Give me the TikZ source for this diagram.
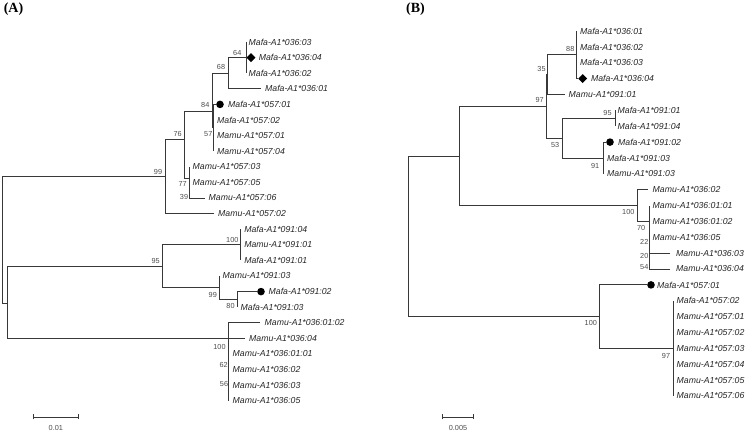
\documentclass[tikz,border=0pt]{standalone}
\usepackage{fontspec}
\setmainfont{Liberation Serif}
\setsansfont{Liberation Sans}
\usetikzlibrary{positioning,shapes.geometric,arrows.meta}
\definecolor{BranchGray}{rgb}{0.22,0.22,0.22}
\definecolor{BootGray}{rgb}{0.30,0.30,0.30}
\tikzset{
  branch/.style={draw=BranchGray, line width=0.8pt},
  leaf/.style={inner sep=0pt, text=black!85, font=\sffamily\itshape\fontsize{8.7}{10}\selectfont},
  boot/.style={inner sep=0pt, text=BootGray, font=\sffamily\fontsize{7.3}{8}\selectfont},
  dot/.style={circle, fill=black, inner sep=0pt, minimum size=7.6pt},
  gem/.style={diamond, fill=black, inner sep=0pt, minimum size=9pt},
  panel/.style={inner sep=0pt, font=\bfseries\fontsize{14}{16}\selectfont},
}

\begin{document}
\begin{tikzpicture}[x=1pt, y=-1pt]
  \useasboundingbox (0,0) rectangle (747,435);

  % (A)
  \node[panel] (labA) at (13.5,9.5) {(A)};

  \coordinate (rA) at (2,240);
  \coordinate (nA99) at (165,176);
  \coordinate (nA76) at (184,139);
  \coordinate (nA84) at (212.5,111);
  \coordinate (nA68) at (228,73.2);
  \coordinate (nA64) at (246,57.6);
  \coordinate (nA57) at (213.5,127.8);
  \coordinate (nA77) at (189,178);
  \coordinate (nAlow) at (7,303);
  \coordinate (nA95) at (162,266.5);
  \coordinate (nA100a) at (240.7,244.8);
  \coordinate (nA99b) at (219,287.7);
  \coordinate (nA80) at (237,299.4);
  \coordinate (nA100c) at (228,338.4);

  \draw[branch] (rA) |- (nA99);
  \draw[branch] (rA) |- (nAlow);
  \draw[branch] (nA99) |- (nA76);
  \draw[branch] (nA76) |- (nA84);
  \draw[branch] (nA76) |- (nA77);
  \draw[branch] (nA84) |- (nA68);
  \draw[branch] (nA84) |- (nA57);
  \draw[branch] (nA68) |- (nA64);
  \draw[branch] (nAlow) |- (nA95);
  \draw[branch] (nAlow) |- (nA100c);
  \draw[branch] (nA95) |- (nA100a);
  \draw[branch] (nA95) |- (nA99b);
  \draw[branch] (nA99b) |- (nA80);

  \coordinate (tA0363) at (246,42);
  \node[gem] (mA0364) at (251,57.6) {};
  \coordinate (tA0362) at (246,73.2);
  \coordinate (tA0361) at (261,88.8);
  \node[dot] (mA0571) at (220,104.4) {};
  \coordinate (tA0572) at (213.5,120);
  \coordinate (tA0571u) at (213.5,135.6);
  \coordinate (tA0574u) at (213.5,151.2);
  \coordinate (tA0573u) at (189,166.8);
  \coordinate (tA0575u) at (189,182.4);
  \coordinate (tA0576u) at (205,198);
  \coordinate (tA0572u) at (214,213.6);
  \coordinate (tA0914) at (240.7,229.2);
  \coordinate (tA0911u) at (240.7,244.8);
  \coordinate (tA0911) at (240.7,260.4);
  \coordinate (tA0913u) at (219,276);
  \node[dot] (mA0912) at (261,291.6) {};
  \coordinate (tA0913) at (237,307.2);
  \coordinate (tA036102u) at (260,322.8);
  \coordinate (tA0364u) at (245,338.4);
  \coordinate (tA036101u) at (228.5,354);
  \coordinate (tA0362u) at (228.5,369.6);
  \coordinate (tA0363u) at (228.5,385.2);
  \coordinate (tA0365u) at (228.5,400.8);

  \draw[branch] (nA64) |- (tA0363);
  \draw[branch] (nA64) -- (mA0364);
  \draw[branch] (nA64) |- (tA0362);
  \draw[branch] (nA68) |- (tA0361);
  \draw[branch] (nA57) |- (mA0571);
  \draw[branch] (nA57) |- (tA0572);
  \draw[branch] (nA57) |- (tA0571u);
  \draw[branch] (nA57) |- (tA0574u);
  \draw[branch] (nA77) |- (tA0573u);
  \draw[branch] (nA77) |- (tA0575u);
  \draw[branch] (nA77) |- (tA0576u);
  \draw[branch] (nA99) |- (tA0572u);
  \draw[branch] (nA100a) |- (tA0914);
  \draw[branch] (nA100a) |- (tA0911);
  \draw[branch] (nA99b) |- (tA0913u);
  \draw[branch] (nA80) |- (mA0912);
  \draw[branch] (nA80) |- (tA0913);
  \draw[branch] (nA100c) |- (tA036102u);
  \draw[branch] (nA100c) |- (tA0364u);
  \draw[branch] (nA100c) |- (tA0365u);

  \node[leaf, right=2.5pt of tA0363] {Mafa-A1*036:03};
  \node[leaf, right=3pt of mA0364] {Mafa-A1*036:04};
  \node[leaf, right=2.5pt of tA0362] {Mafa-A1*036:02};
  \node[leaf, right=4pt of tA0361] {Mafa-A1*036:01};
  \node[leaf, right=4pt of mA0571] {Mafa-A1*057:01};
  \node[leaf, right=3.5pt of tA0572] {Mafa-A1*057:02};
  \node[leaf, right=3.5pt of tA0571u] {Mamu-A1*057:01};
  \node[leaf, right=3.5pt of tA0574u] {Mamu-A1*057:04};
  \node[leaf, right=3.5pt of tA0573u] {Mamu-A1*057:03};
  \node[leaf, right=3.5pt of tA0575u] {Mamu-A1*057:05};
  \node[leaf, right=3.5pt of tA0576u] {Mamu-A1*057:06};
  \node[leaf, right=4pt of tA0572u] {Mamu-A1*057:02};
  \node[leaf, right=3.5pt of tA0914] {Mafa-A1*091:04};
  \node[leaf, right=3.5pt of tA0911u] {Mamu-A1*091:01};
  \node[leaf, right=3.5pt of tA0911] {Mafa-A1*091:01};
  \node[leaf, right=3.5pt of tA0913u] {Mamu-A1*091:03};
  \node[leaf, right=3.5pt of mA0912] {Mafa-A1*091:02};
  \node[leaf, right=3.5pt of tA0913] {Mafa-A1*091:03};
  \node[leaf, right=4.5pt of tA036102u] {Mamu-A1*036:01:02};
  \node[leaf, right=4pt of tA0364u] {Mamu-A1*036:04};
  \node[leaf, right=4pt of tA036101u] {Mamu-A1*036:01:01};
  \node[leaf, right=4pt of tA0362u] {Mamu-A1*036:02};
  \node[leaf, right=4pt of tA0363u] {Mamu-A1*036:03};
  \node[leaf, right=4pt of tA0365u] {Mamu-A1*036:05};

  \node[boot] (bA99) at (158,171.5) {99};
  \node[boot] (bA76) at (177.7,134.3) {76};
  \node[boot] (bA84) at (205.3,105) {84};
  \node[boot] (bA68) at (221,67.3) {68};
  \node[boot] (bA64) at (237.3,52.5) {64};
  \node[boot] (bA57) at (208.3,134.3) {57};
  \node[boot] (bA77) at (182.7,184.3) {77};
  \node[boot] (bA39) at (184,197.3) {39};
  \node[boot] (bA100a) at (232.3,239.7) {100};
  \node[boot] (bA95) at (155.7,261.3) {95};
  \node[boot] (bA99b) at (212.8,294.7) {99};
  \node[boot] (bA80) at (230.5,306) {80};
  \node[boot] (bA100c) at (219.5,347.3) {100};
  \node[boot] (bA62) at (223.7,364.7) {62};
  \node[boot] (bA56) at (224,384) {56};

  \coordinate (sA1) at (33.3,417);
  \coordinate (sA2) at (78.3,417);
  \draw[branch, {Bar[width=5pt]}-{Bar[width=5pt]}] (sA1) -- (sA2);
  \node[boot] (sAlab) at (55.8,428) {0.01};

  % (B)
  \node[panel] (labB) at (415.5,9.5) {(B)};

  \coordinate (rB) at (408.5,236);
  \coordinate (nB1) at (459,156);
  \coordinate (nB97) at (546,106.3);
  \coordinate (nB35) at (547,74.7);
  \coordinate (nB88) at (576,54.8);
  \coordinate (nB53) at (562,138);
  \coordinate (nB95) at (615,118.3);
  \coordinate (nB91) at (603,158);
  \coordinate (nB100d) at (637.7,205.6);
  \coordinate (nB70) at (649,221.4);
  \coordinate (nB20) at (649.5,261.1);
  \coordinate (nB100e) at (599,316.7);
  \coordinate (nB97b) at (673,348.4);

  \draw[branch] (rB) |- (nB1);
  \draw[branch] (rB) |- (nB100e);
  \draw[branch] (nB1) |- (nB97);
  \draw[branch] (nB1) |- (nB100d);
  \draw[branch] (nB97) |- (nB35);
  \draw[branch] (nB97) |- (nB53);
  \draw[branch] (nB35) |- (nB88);
  \draw[branch] (nB53) |- (nB95);
  \draw[branch] (nB53) |- (nB91);
  \draw[branch] (nB100d) |- (nB70);
  \draw[branch] (nB70) |- (nB20);
  \draw[branch] (nB100e) |- (nB97b);

  \coordinate (tB0361) at (576,31);
  \coordinate (tB0362) at (576,46.9);
  \coordinate (tB0363) at (576,62.7);
  \node[gem] (mB0364) at (582.7,78.6) {};
  \coordinate (tB0911u) at (565,94.5);
  \coordinate (tB0911) at (615,110.4);
  \coordinate (tB0914) at (615,126.2);
  \node[dot] (mB0912) at (610,142.1) {};
  \coordinate (tB0913) at (603,158);
  \coordinate (tB0913u) at (603,173.8);
  \coordinate (tB0362u) at (648,189.7);
  \coordinate (tB036101u) at (649,205.6);
  \coordinate (tB036102u) at (649,221.4);
  \coordinate (tB0365u) at (649,237.3);
  \coordinate (tB0363u) at (670,253.2);
  \coordinate (tB0364u) at (670,269);
  \node[dot] (mB0571) at (651,284.9) {};
  \coordinate (tB0572) at (673,300.8);
  \coordinate (tB0571u) at (673,316.7);
  \coordinate (tB0572u) at (673,332.5);
  \coordinate (tB0573u) at (673,348.4);
  \coordinate (tB0574u) at (673,364.3);
  \coordinate (tB0575u) at (673,380.1);
  \coordinate (tB0576u) at (673,396);

  \draw[branch] (nB88) |- (tB0361);
  \draw[branch] (nB88) |- (mB0364);
  \draw[branch] (nB35) |- (tB0911u);
  \draw[branch] (nB95) |- (tB0911);
  \draw[branch] (nB95) |- (tB0914);
  \draw[branch] (nB91) |- (mB0912);
  \draw[branch] (nB91) |- (tB0913u);
  \draw[branch] (nB100d) |- (tB0362u);
  \draw[branch] (nB70) |- (tB036101u);
  \draw[branch] (nB70) |- (tB0365u);
  \draw[branch] (nB20) |- (tB0363u);
  \draw[branch] (nB20) |- (tB0364u);
  \draw[branch] (nB100e) |- (mB0571);
  \draw[branch] (nB97b) |- (tB0572);
  \draw[branch] (nB97b) |- (tB0576u);

  \node[leaf, right=4pt of tB0361] {Mafa-A1*036:01};
  \node[leaf, right=4pt of tB0362] {Mafa-A1*036:02};
  \node[leaf, right=4pt of tB0363] {Mafa-A1*036:03};
  \node[leaf, right=3.5pt of mB0364] {Mafa-A1*036:04};
  \node[leaf, right=3.5pt of tB0911u] {Mamu-A1*091:01};
  \node[leaf, right=2.5pt of tB0911] {Mafa-A1*091:01};
  \node[leaf, right=2.5pt of tB0914] {Mafa-A1*091:04};
  \node[leaf, right=4pt of mB0912] {Mafa-A1*091:02};
  \node[leaf, right=4pt of tB0913] {Mafa-A1*091:03};
  \node[leaf, right=4pt of tB0913u] {Mamu-A1*091:03};
  \node[leaf, right=4.5pt of tB0362u] {Mamu-A1*036:02};
  \node[leaf, right=3.5pt of tB036101u] {Mamu-A1*036:01:01};
  \node[leaf, right=3.5pt of tB036102u] {Mamu-A1*036:01:02};
  \node[leaf, right=3.5pt of tB0365u] {Mamu-A1*036:05};
  \node[leaf, right=6pt of tB0363u] {Mamu-A1*036:03};
  \node[leaf, right=6pt of tB0364u] {Mamu-A1*036:04};
  \node[leaf, right=2pt of mB0571] {Mafa-A1*057:01};
  \node[leaf, right=3.5pt of tB0572] {Mafa-A1*057:02};
  \node[leaf, right=3.5pt of tB0571u] {Mamu-A1*057:01};
  \node[leaf, right=3.5pt of tB0572u] {Mamu-A1*057:02};
  \node[leaf, right=3.5pt of tB0573u] {Mamu-A1*057:03};
  \node[leaf, right=3.5pt of tB0574u] {Mamu-A1*057:04};
  \node[leaf, right=3.5pt of tB0575u] {Mamu-A1*057:05};
  \node[leaf, right=3.5pt of tB0576u] {Mamu-A1*057:06};

  \node[boot] (bB88) at (570.3,49.3) {88};
  \node[boot] (bB35) at (541.5,69.3) {35};
  \node[boot] (bB97) at (539.7,100) {97};
  \node[boot] (bB53) at (555.2,145) {53};
  \node[boot] (bB95) at (607.5,112.7) {95};
  \node[boot] (bB91) at (595.2,166) {91};
  \node[boot] (bB100d) at (628.3,211.7) {100};
  \node[boot] (bB70) at (641.2,227.7) {70};
  \node[boot] (bB22) at (644.3,241.7) {22};
  \node[boot] (bB20) at (644.3,256) {20};
  \node[boot] (bB54) at (644.3,267.3) {54};
  \node[boot] (bB100e) at (590.8,323.3) {100};
  \node[boot] (bB97b) at (666,355.7) {97};

  \coordinate (sB1) at (442,417);
  \coordinate (sB2) at (474,417);
  \draw[branch, {Bar[width=5pt]}-{Bar[width=5pt]}] (sB1) -- (sB2);
  \node[boot] (sBlab) at (458,428) {0.005};
\end{tikzpicture}
\end{document}
